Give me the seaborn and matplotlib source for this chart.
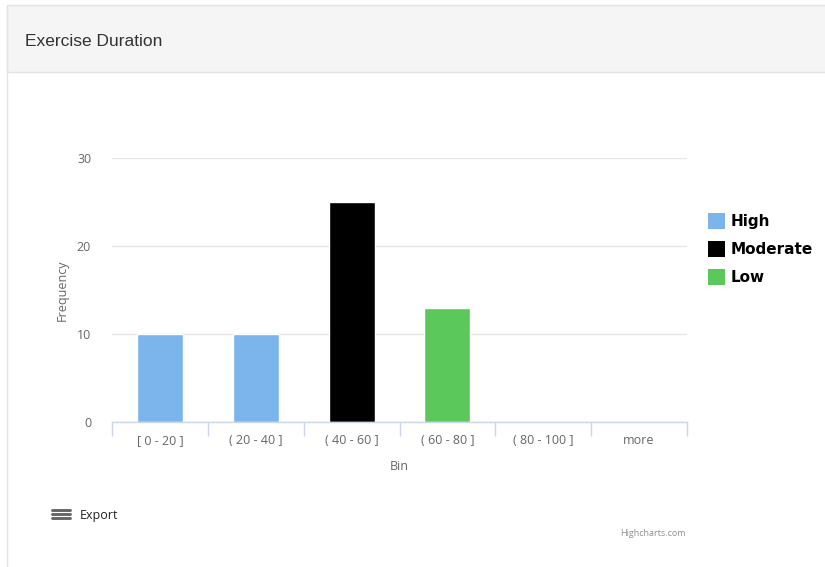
import matplotlib
matplotlib.use("Agg")
import matplotlib.pyplot as plt
from matplotlib.patches import Rectangle
import seaborn as sns
import pandas as pd

# Histogram of exercise duration, coloured by intensity level
bins = ["[ 0 - 20 ]", "( 20 - 40 ]", "( 40 - 60 ]", "( 60 - 80 ]", "( 80 - 100 ]", "more"]
frequency = [10, 10, 25, 13, 0, 0]
intensity = ["High", "High", "Moderate", "Low", "High", "High"]
levels = ["High", "Moderate", "Low"]
level_colors = ["#7cb5ec", "#000000", "#5ac85a"]

df = pd.DataFrame({"Bin": bins, "Frequency": frequency, "Level": intensity})

sns.set_theme(style="white")
plt.rcParams["font.family"] = ["Open Sans", "DejaVu Sans"]

W, H = 825, 567
fig = plt.figure(figsize=(W / 100, H / 100), dpi=100)
fig.patch.set_facecolor("white")

# Panel header band and borders
fig.patches.append(Rectangle((7 / W, 1 - 72 / H), 1 - 7 / W + 0.01, 67 / H, transform=fig.transFigure,
                             facecolor="#f5f5f5", edgecolor="#e3e3e3", lw=1, zorder=0))
fig.add_artist(plt.Line2D([7 / W, 7 / W], [0, 1 - 5 / H], transform=fig.transFigure,
                          color="#e3e3e3", lw=1))
fig.text(25 / W, 1 - 41 / H, "Exercise Duration", fontsize=12.5, color="#333333",
         family="Liberation Sans", va="center", ha="left")

ax = fig.add_axes([112 / W, 1 - 422 / H, (687 - 112) / W, (422 - 158) / H])
sns.barplot(data=df, x="Bin", y="Frequency", hue="Level", hue_order=levels,
            palette=level_colors, dodge=False, width=0.48, ax=ax, legend=False,
            saturation=1)

ax.set_ylim(0, 30)
ax.set_yticks([0, 10, 20, 30])
ax.set_xlim(-0.5, len(bins) - 0.5)
ax.yaxis.grid(True, color="#e6e6e6", lw=1)
ax.set_axisbelow(True)
for s in ["top", "right", "left"]:
    ax.spines[s].set_visible(False)
ax.spines["bottom"].set_color("#ccd6eb")
ax.spines["bottom"].set_linewidth(1)

ax.tick_params(axis="y", length=0, pad=15, labelsize=9, labelcolor="#666666")
ax.set_xticks([i for i in range(len(bins))])
ax.set_xticklabels(bins)
ax.tick_params(axis="x", length=0, pad=9, labelsize=9, labelcolor="#666666")
# category boundary ticks
ax.set_xticks([i - 0.5 for i in range(len(bins) + 1)], minor=True)
ax.tick_params(axis="x", which="minor", length=10, color="#ccd6eb", width=1, direction="out")
ax.xaxis.set_tick_params(which="minor", bottom=True)

ax.set_xlabel("Bin", fontsize=9, color="#666666", labelpad=9)
ax.set_ylabel("Frequency", fontsize=9, color="#666666", labelpad=6)

# Legend
handles = [Rectangle((0, 0), 1, 1, facecolor=c, edgecolor="none") for c in level_colors]
leg = fig.legend(handles, levels, loc="upper left", bbox_to_anchor=(702 / W, 1 - 207 / H),
                 frameon=False, prop={"family": "DejaVu Sans", "weight": "bold", "size": 11},
                 handlelength=1.1, handleheight=1.2, handletextpad=0.4, labelspacing=0.78,
                 borderaxespad=0)
for t in leg.get_texts():
    t.set_color("#000000")

# Export button and credit
for dy in (509.5, 513.5, 517.5):
    fig.add_artist(plt.Line2D([52 / W, 70 / W], [1 - dy / H] * 2, transform=fig.transFigure,
                              color="#666666", lw=2.1, solid_capstyle="round"))
fig.text(80 / W, 1 - 516 / H, "Export", fontsize=9, color="#222222", va="center", ha="left")
fig.text(686 / W, 1 - 533 / H, "Highcharts.com", fontsize=6.5, color="#909090", va="center", ha="right")

fig.savefig("out.png", dpi=100)
